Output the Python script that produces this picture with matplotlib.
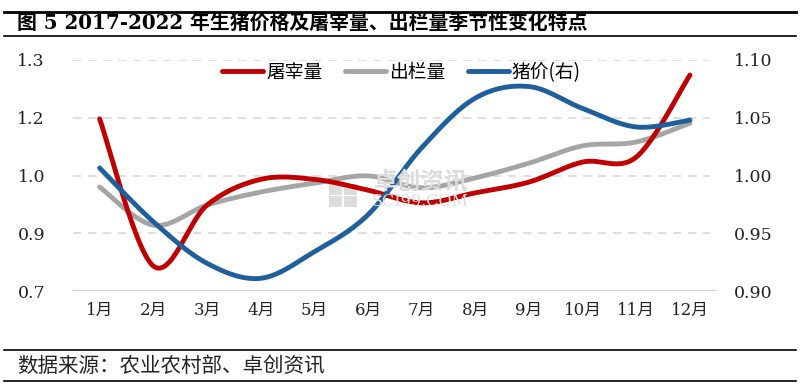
import numpy as np
import matplotlib
matplotlib.use("Agg")
import matplotlib.pyplot as plt
from matplotlib.lines import Line2D
from matplotlib.patches import Rectangle

plt.rcParams['font.family'] = ['Noto Sans CJK SC', 'DejaVu Sans']
SERIF = ['DejaVu Serif', 'Noto Sans CJK SC']

months = ['1月', '2月', '3月', '4月', '5月', '6月', '7月', '8月', '9月', '10月', '11月', '12月']
slaughter = [1.147, 0.765, 0.923, 0.990, 0.990, 0.962, 0.929, 0.955, 0.983, 1.035, 1.048, 1.261]
output = [0.970, 0.871, 0.923, 0.957, 0.980, 0.999, 0.968, 0.994, 1.032, 1.077, 1.087, 1.136]
price = [1.0065, 0.960, 0.924, 0.911, 0.934, 0.966, 1.024, 1.067, 1.077, 1.058, 1.042, 1.048]
left_ticks = [0.70, 0.85, 1.00, 1.15, 1.30]
left_labels = ['0.7', '0.9', '1.0', '1.2', '1.3']
right_ticks = [0.90, 0.95, 1.00, 1.05, 1.10]
right_labels = ['0.90', '0.95', '1.00', '1.05', '1.10']


def smooth(x, y, n=30):
    x = np.asarray(x, float); y = np.asarray(y, float)
    P = np.column_stack([x, y])
    out = []
    for i in range(len(P) - 1):
        p0 = P[i - 1] if i > 0 else P[i]
        p1 = P[i]; p2 = P[i + 1]
        p3 = P[i + 2] if i + 2 < len(P) else P[i + 1]
        c1 = p1 + (p2 - p0) / 6
        c2 = p2 - (p3 - p1) / 6
        t = np.linspace(0, 1, n)[:, None]
        seg = (1 - t) ** 3 * p1 + 3 * (1 - t) ** 2 * t * c1 + 3 * (1 - t) * t ** 2 * c2 + t ** 3 * p2
        out.append(seg if i == 0 else seg[1:])
    s = np.vstack(out)
    return s[:, 0], s[:, 1]


fig = plt.figure(figsize=(8, 3.87), dpi=100)
W, H = 800, 387

# watermark (behind everything)
fig.text(421 / W, 1 - 182 / H, '卓创资讯', color='#DCDCDC', fontsize=17, ha='center', va='center',
         fontweight='bold', zorder=0)
fig.text(420 / W, 1 - 201 / H, 'SCI99.COM', color='#DEDEDE', fontsize=11.5, ha='center', va='center',
         family='DejaVu Serif', zorder=0)
for (rx, ry) in [(329, 184), (344, 184), (329, 196), (344, 196)]:
    fig.add_artist(Rectangle((rx / W, 1 - (ry + 11) / H), 13 / W, 11 / H, transform=fig.transFigure,
                             color='#DCDCDC', lw=0, zorder=0))

ax = fig.add_axes([0.091, 0.248, 0.805, 0.597])
ax.patch.set_alpha(0)
ax2 = ax.twinx()
ax2.patch.set_alpha(0)

x = np.arange(len(months))
red = '#C00000'
gray = '#A5A5A5'
blue = '#1F5F9C'

sx, sy = smooth(x, output)
ax.plot(sx, sy, color=gray, lw=3.5, solid_capstyle='round', zorder=3)
sx, sy = smooth(x, slaughter)
ax.plot(sx, sy, color=red, lw=3.5, solid_capstyle='round', zorder=4)
sx, sy = smooth(x, price)
ax2.plot(sx, sy, color=blue, lw=3.5, solid_capstyle='round', zorder=5)

ax.set_xlim(-0.5, 11.5)
ax.set_ylim(0.7, 1.3)
ax2.set_ylim(0.9, 1.1)
ax.set_yticks(left_ticks)
ax.set_yticklabels(left_labels, family=SERIF, fontsize=12.5)
ax2.set_yticks(right_ticks)
ax2.set_yticklabels(right_labels, family=SERIF, fontsize=12.5)
ax.set_xticks(x)
ax.set_xticklabels(months, family=SERIF, fontsize=12)

for a in (ax, ax2):
    for s in a.spines.values():
        s.set_visible(False)
    a.tick_params(length=0, colors='#222222')
ax.tick_params(axis='y', pad=20)
ax2.tick_params(axis='y', pad=12)
ax.tick_params(axis='x', pad=8)

for v in left_ticks[1:]:
    ax.axhline(v, xmin=0, xmax=0.99, color='#D9D9D9', lw=1.2, ls=(0, (5, 4)), zorder=1)
ax.axhline(0.7, color='#D0D0D0', lw=1.5, zorder=1)

handles = [Line2D([0], [0], color=red, lw=3.5, solid_capstyle='round'),
           Line2D([0], [0], color=gray, lw=3.5, solid_capstyle='round'),
           Line2D([0], [0], color=blue, lw=3.5, solid_capstyle='round')]
leg = ax.legend(handles, ['屠宰量', '出栏量', '猪价(右)'], loc='upper center',
                bbox_to_anchor=(0.51, 1.065), ncol=3, frameon=False, fontsize=13.5,
                handlelength=2.2, handletextpad=0.15, columnspacing=1.2)
leg.set_zorder(10)

# header/footer
fig.add_artist(Line2D([0.005, 0.995], [1 - 12 / H] * 2, color='black', lw=2))
fig.add_artist(Line2D([0.005, 0.995], [1 - 36 / H] * 2, color='black', lw=1.2))
fig.add_artist(Line2D([0.005, 0.995], [1 - 350 / H] * 2, color='black', lw=1.2))
fig.add_artist(Line2D([0.005, 0.995], [1 - 381 / H] * 2, color='black', lw=1.2))
fig.text(0.021, 1 - 23 / H, '图 5 2017-2022 年生猪价格及屠宰量、出栏量季节性变化特点', fontsize=14.3,
         fontweight='bold', va='center', ha='left', family=SERIF)
fig.text(0.021, 1 - 366 / H, '数据来源：农业农村部、卓创资讯', fontsize=14.8, va='center', ha='left',
         color='#222222')

fig.savefig('out.png', dpi=100)
